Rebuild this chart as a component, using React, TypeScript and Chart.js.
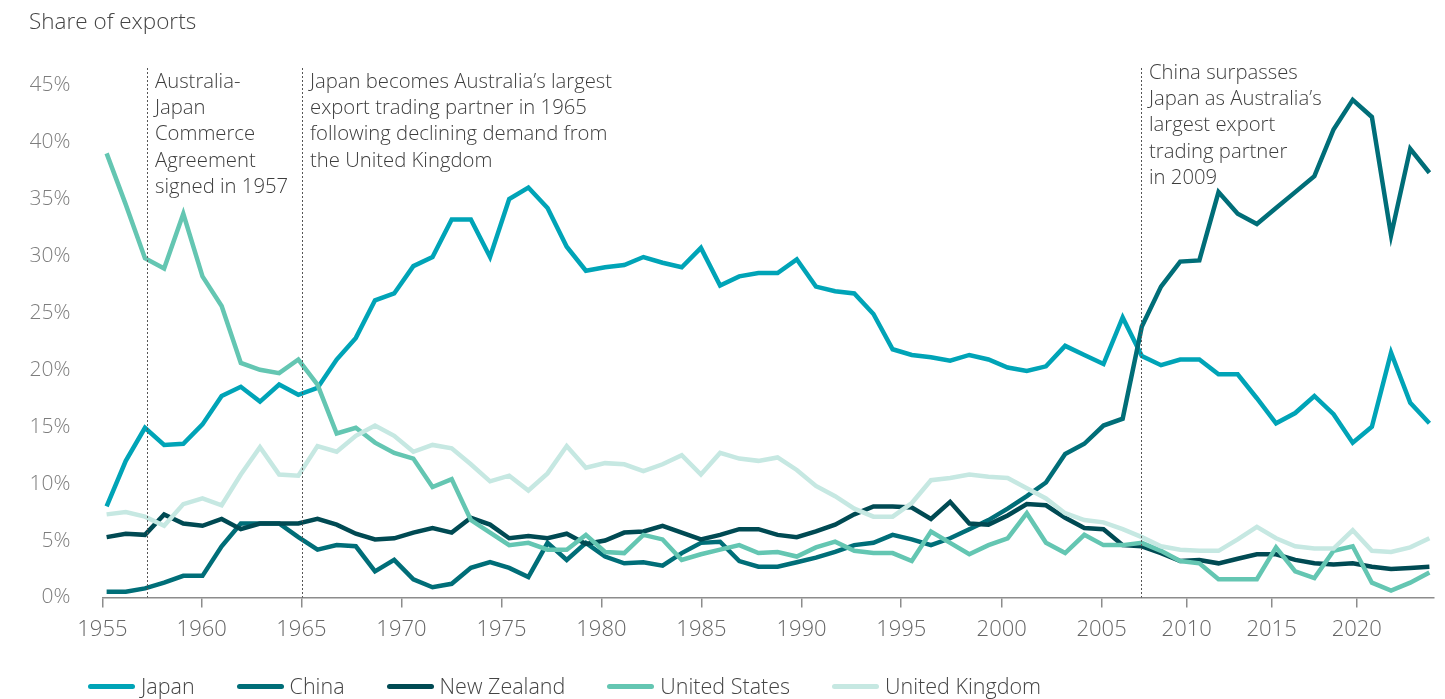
import React, { useEffect, useRef } from "react";
import { Chart, registerables } from "chart.js";

Chart.register(...registerables);

// ---- data ----
const years = [
  1955, 1956, 1957, 1958, 1959, 1960, 1961, 1962, 1963, 1964,
  1965, 1966, 1967, 1968, 1969, 1970, 1971, 1972, 1973, 1974,
  1975, 1976, 1977, 1978, 1979, 1980, 1981, 1982, 1983, 1984,
  1985, 1986, 1987, 1988, 1989, 1990, 1991, 1992, 1993, 1994,
  1995, 1996, 1997, 1998, 1999, 2000, 2001, 2002, 2003, 2004,
  2005, 2006, 2007, 2008, 2009, 2010, 2011, 2012, 2013, 2014,
  2015, 2016, 2017, 2018, 2019, 2020, 2021, 2022, 2023, 2024,
];

const japan = [
  8.0, 12.0, 14.9, 13.4, 13.5, 15.2, 17.7, 18.5, 17.2, 18.7,
  17.8, 18.4, 20.9, 22.8, 26.1, 26.7, 29.1, 29.9, 33.2, 33.2,
  29.9, 35.0, 36.0, 34.2, 30.8, 28.7, 29.0, 29.2, 29.9, 29.4,
  29.0, 30.7, 27.4, 28.2, 28.5, 28.5, 29.7, 27.3, 26.9, 26.7,
  24.9, 21.8, 21.3, 21.1, 20.8, 21.3, 20.9, 20.2, 19.9, 20.3,
  22.1, 21.3, 20.5, 24.6, 21.2, 20.4, 20.9, 20.9, 19.6, 19.6,
  17.5, 15.3, 16.2, 17.7, 16.1, 13.6, 15.0, 21.5, 17.1, 15.3,
];

const china = [
  0.5, 0.5, 0.8, 1.3, 1.9, 1.9, 4.5, 6.5, 6.5, 6.5,
  5.3, 4.2, 4.6, 4.5, 2.3, 3.3, 1.6, 0.9, 1.2, 2.6,
  3.1, 2.6, 1.8, 4.8, 3.3, 4.8, 3.6, 3.0, 3.1, 2.8,
  3.9, 4.8, 4.9, 3.2, 2.7, 2.7, 3.1, 3.5, 4.0, 4.6,
  4.8, 5.5, 5.1, 4.6, 5.2, 6.0, 6.8, 7.8, 8.9, 10.1,
  12.6, 13.5, 15.1, 15.7, 23.8, 27.3, 29.5, 29.6, 35.6, 33.7,
  32.8, 34.2, 35.6, 37.0, 41.1, 43.7, 42.2, 31.8, 39.4, 37.3,
];

const newZealand = [
  5.3, 5.6, 5.5, 7.3, 6.5, 6.3, 6.9, 6.0, 6.5, 6.5,
  6.5, 6.9, 6.4, 5.6, 5.1, 5.2, 5.7, 6.1, 5.7, 7.0,
  6.4, 5.2, 5.4, 5.2, 5.6, 4.7, 5.0, 5.7, 5.8, 6.3,
  5.7, 5.1, 5.5, 6.0, 6.0, 5.5, 5.3, 5.8, 6.4, 7.3,
  8.0, 8.0, 7.9, 6.9, 8.4, 6.5, 6.4, 7.2, 8.2, 8.1,
  7.0, 6.1, 6.0, 4.6, 4.5, 3.9, 3.2, 3.3, 3.0, 3.4,
  3.8, 3.8, 3.3, 3.0, 2.9, 3.0, 2.7, 2.5, 2.6, 2.7,
];

const unitedStates = [
  39.0, 34.5, 29.8, 28.9, 33.7, 28.2, 25.6, 20.6, 20.0, 19.7,
  20.9, 18.7, 14.4, 14.9, 13.6, 12.7, 12.2, 9.7, 10.4, 6.8,
  5.7, 4.6, 4.8, 4.2, 4.2, 5.5, 4.0, 3.9, 5.5, 5.1,
  3.3, 3.8, 4.2, 4.6, 3.9, 4.0, 3.6, 4.4, 4.9, 4.1,
  3.9, 3.9, 3.2, 5.8, 4.8, 3.8, 4.6, 5.2, 7.4, 4.8,
  3.9, 5.5, 4.6, 4.6, 4.8, 4.1, 3.2, 3.0, 1.6, 1.6,
  1.6, 4.4, 2.3, 1.7, 4.1, 4.5, 1.3, 0.6, 1.3, 2.2,
];

const unitedKingdom = [
  7.3, 7.5, 7.1, 6.3, 8.2, 8.7, 8.1, 10.8, 13.2, 10.8,
  10.7, 13.3, 12.8, 14.2, 15.1, 14.2, 12.8, 13.4, 13.1, 11.7,
  10.2, 10.7, 9.4, 10.9, 13.3, 11.4, 11.8, 11.7, 11.1, 11.7,
  12.5, 10.8, 12.7, 12.2, 12.0, 12.3, 11.2, 9.8, 8.9, 7.8,
  7.1, 7.1, 8.3, 10.3, 10.5, 10.8, 10.6, 10.5, 9.6, 8.7,
  7.4, 6.8, 6.6, 6.0, 5.3, 4.5, 4.2, 4.1, 4.1, 5.1,
  6.2, 5.2, 4.5, 4.3, 4.3, 5.9, 4.1, 4.0, 4.4, 5.2,
];

// x-axis tick labels and where they sit along the series (point index units)
const xTickYears = ["1955", "1960", "1965", "1970", "1975", "1980", "1985", "1990", "1995", "2000", "2005", "2010", "2015", "2020"];
const xTickPositions = [-0.22, 4.96, 10.16, 15.38, 20.6, 25.81, 31.03, 36.25, 41.45, 46.69, 51.9, 56.34, 60.77, 65.21];

const yTickValues = [0, 5, 10, 15, 20, 25, 30, 35, 40, 45];

const seriesNames = ["Japan", "China", "New Zealand", "United States", "United Kingdom"];
const seriesColors = ["#00A4B7", "#006E78", "#004A53", "#64C6B2", "#C6E8E2"];
const seriesValues = [japan, china, newZealand, unitedStates, unitedKingdom];

const notes = [
  { at: 2.12, offset: 14, lines: ["Australia-", "Japan", "Commerce", "Agreement", "signed in 1957"] },
  { at: 10.19, offset: 14, lines: ["Japan becomes Australia\u2019s largest", "export trading partner in 1965", "following declining demand from", "the United Kingdom"] },
  { at: 53.96, offset: 5, lines: ["China surpasses", "Japan as Australia\u2019s", "largest export", "trading partner", "in 2009"] },
];

const FONT = '"Open Sans", "Noto Sans", sans-serif';

const notesPlugin = {
  id: "notesPlugin",
  afterDatasetsDraw(chart: any) {
    const { ctx, chartArea, scales } = chart;
    ctx.save();
    notes.forEach((n) => {
      const x = Math.round(scales.x.getPixelForValue(n.at)) + 0.5;
      ctx.strokeStyle = "#555555";
      ctx.lineWidth = 1;
      ctx.setLineDash([2, 2]);
      ctx.beginPath();
      ctx.moveTo(x, chartArea.top);
      ctx.lineTo(x, chartArea.bottom);
      ctx.stroke();
      ctx.setLineDash([]);
      ctx.fillStyle = "#3d3d3d";
      ctx.font = `300 20.3px ${FONT}`;
      ctx.textBaseline = "middle";
      ctx.textAlign = "left";
      n.lines.forEach((t, k) => {
        ctx.fillText(t, x + 7.5, chartArea.top + n.offset + k * 26.3);
      });
    });
    ctx.restore();
  },
};

export default function App() {
  const ref = useRef<HTMLCanvasElement | null>(null);

  useEffect(() => {
    const prevMargin = document.body.style.margin;
    document.body.style.margin = "8px 8px 0 8px";
    if (!ref.current) return;
    const chart = new Chart(ref.current, {
      type: "line",
      data: {
        datasets: seriesValues.map((vals, s) => ({
          label: seriesNames[s],
          data: vals.map((v, i) => ({ x: i, y: v, year: years[i] })),
          borderColor: seriesColors[s],
          backgroundColor: seriesColors[s],
          borderWidth: 4.5,
          pointRadius: 0,
          tension: 0,
          fill: false,
          order: seriesValues.length - s,
        })),
      },
      options: {
        animation: false,
        responsive: false,
        parsing: false as any,
        layout: { padding: { left: 0, right: 3, top: 60, bottom: 0 } },
        plugins: {
          legend: { display: false },
          tooltip: { enabled: false },
          title: { display: false },
        },
        scales: {
          x: {
            type: "linear",
            min: -0.22,
            max: 69.24,
            afterBuildTicks: (axis: any) => {
              axis.ticks = xTickPositions.map((v) => ({ value: v }));
            },
            afterFit: (axis: any) => {
              axis.height = 90.5;
            },
            grid: {
              display: true,
              drawOnChartArea: false,
              drawTicks: true,
              tickLength: 10,
              color: "#8c8c8c",
              lineWidth: 1.5,
            },
            border: { display: true, color: "#8c8c8c", width: 1.5 },
            ticks: {
              autoSkip: false,
              maxRotation: 0,
              padding: 9,
              color: "#666666",
              font: { family: FONT, size: 22, weight: 300 as any },
              callback: (_v: any, i: number) => xTickYears[i],
            },
          },
          y: {
            min: 0,
            max: 46.5,
            afterBuildTicks: (axis: any) => {
              axis.ticks = yTickValues.map((v) => ({ value: v }));
            },
            afterFit: (axis: any) => {
              axis.width = 94.4;
            },
            grid: { display: false, drawTicks: false },
            border: { display: false },
            ticks: {
              padding: 32,
              color: "#7d7d7d",
              font: { family: FONT, size: 21, weight: 300 as any },
              callback: (v: any) => `${v}%`,
            },
          },
        },
      },
      plugins: [notesPlugin],
    });
    return () => {
      chart.destroy();
      document.body.style.margin = prevMargin;
    };
  }, []);

  return (
    <div style={{ position: "relative", width: 1429, height: 691, fontFamily: FONT, fontWeight: 300 }}>
      <canvas ref={ref} width={1429} height={680} style={{ position: "absolute", left: 0, top: 0, width: 1429, height: 680 }} />
      <div style={{ position: "absolute", left: 21, top: 0, fontSize: 22.5, lineHeight: "26px", color: "#444444", whiteSpace: "nowrap" }}>
        Share of exports
      </div>
      <div style={{ position: "absolute", left: 80, top: 668, height: 20, display: "flex", alignItems: "center", fontSize: 21.5, lineHeight: "20px", color: "#444444", whiteSpace: "nowrap" }}>
        {seriesNames.map((name, s) => (
          <div key={name} style={{ display: "flex", alignItems: "center", marginRight: 42 }}>
            <span style={{ display: "inline-block", width: 47, height: 5, borderRadius: 3, background: seriesColors[s], marginRight: 6 }} />
            <span>{name}</span>
          </div>
        ))}
      </div>
    </div>
  );
}
